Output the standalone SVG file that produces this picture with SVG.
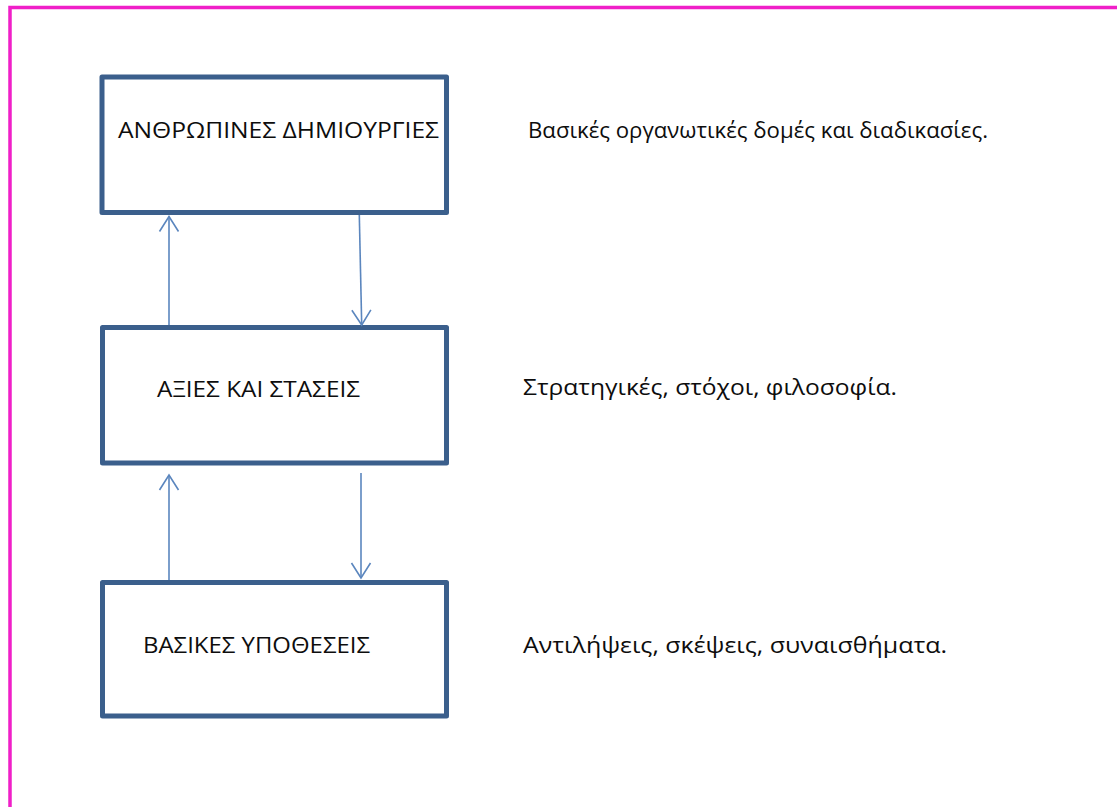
<svg xmlns="http://www.w3.org/2000/svg" width="1117" height="807" viewBox="0 0 1117 807">
<style>
.frame{fill:none;stroke:#F01FC8;stroke-width:3.5}
.box{fill:#fff;stroke:#3B5F8C;stroke-width:5;stroke-linejoin:round}
.t{font-family:"Open Sans","Noto Sans","Liberation Sans",sans-serif;font-size:22px;fill:#0d0d0d}
.conn{fill:none;stroke:#5B86BE;stroke-width:1.6}
</style>
<defs>
<marker id="ah" markerUnits="userSpaceOnUse" markerWidth="30" markerHeight="30" viewBox="-20 -15 30 30" refX="0" refY="0" orient="auto">
<path d="M-15,-9.5 L0,0 L-15,9.5" fill="none" stroke="#5B86BE" stroke-width="1.6"/>
</marker>
</defs>
<rect width="1117" height="807" fill="#fff"/>
<path class="frame" d="M10,807 L10,7.5 L1117,7.5"/>
<g id="node-anthropines">
<rect class="box" x="102" y="77" width="344.5" height="135.5"/>
<text class="t" x="118" y="138" textLength="321" lengthAdjust="spacingAndGlyphs">ΑΝΘΡΩΠΙΝΕΣ ΔΗΜΙΟΥΡΓΙΕΣ</text>
</g>
<g id="node-axies">
<rect class="box" x="102.5" y="327.5" width="344" height="135.5"/>
<text class="t" x="157" y="397" textLength="203" lengthAdjust="spacingAndGlyphs">ΑΞΙΕΣ ΚΑΙ ΣΤΑΣΕΙΣ</text>
</g>
<g id="node-vasikes">
<rect class="box" x="102.5" y="582.5" width="344" height="133.5"/>
<text class="t" x="143" y="653" textLength="227" lengthAdjust="spacingAndGlyphs">ΒΑΣΙΚΕΣ ΥΠΟΘΕΣΕΙΣ</text>
</g>
<g id="labels">
<text class="t" x="528" y="138" textLength="460" lengthAdjust="spacingAndGlyphs">Βασικές οργανωτικές δομές και διαδικασίες.</text>
<text class="t" x="523" y="395" textLength="374" lengthAdjust="spacingAndGlyphs">Στρατηγικές, στόχοι, φιλοσοφία.</text>
<text class="t" x="523" y="653" textLength="424" lengthAdjust="spacingAndGlyphs">Αντιλήψεις, σκέψεις, συναισθήματα.</text>
</g>
<g id="connectors">
<line class="conn" x1="169" y1="325" x2="169" y2="216.5" marker-end="url(#ah)"/>
<line class="conn" x1="359.3" y1="215" x2="361.7" y2="325" marker-end="url(#ah)"/>
<line class="conn" x1="169" y1="580" x2="169" y2="475" marker-end="url(#ah)"/>
<line class="conn" x1="361" y1="473" x2="361" y2="578" marker-end="url(#ah)"/>
</g>
</svg>
